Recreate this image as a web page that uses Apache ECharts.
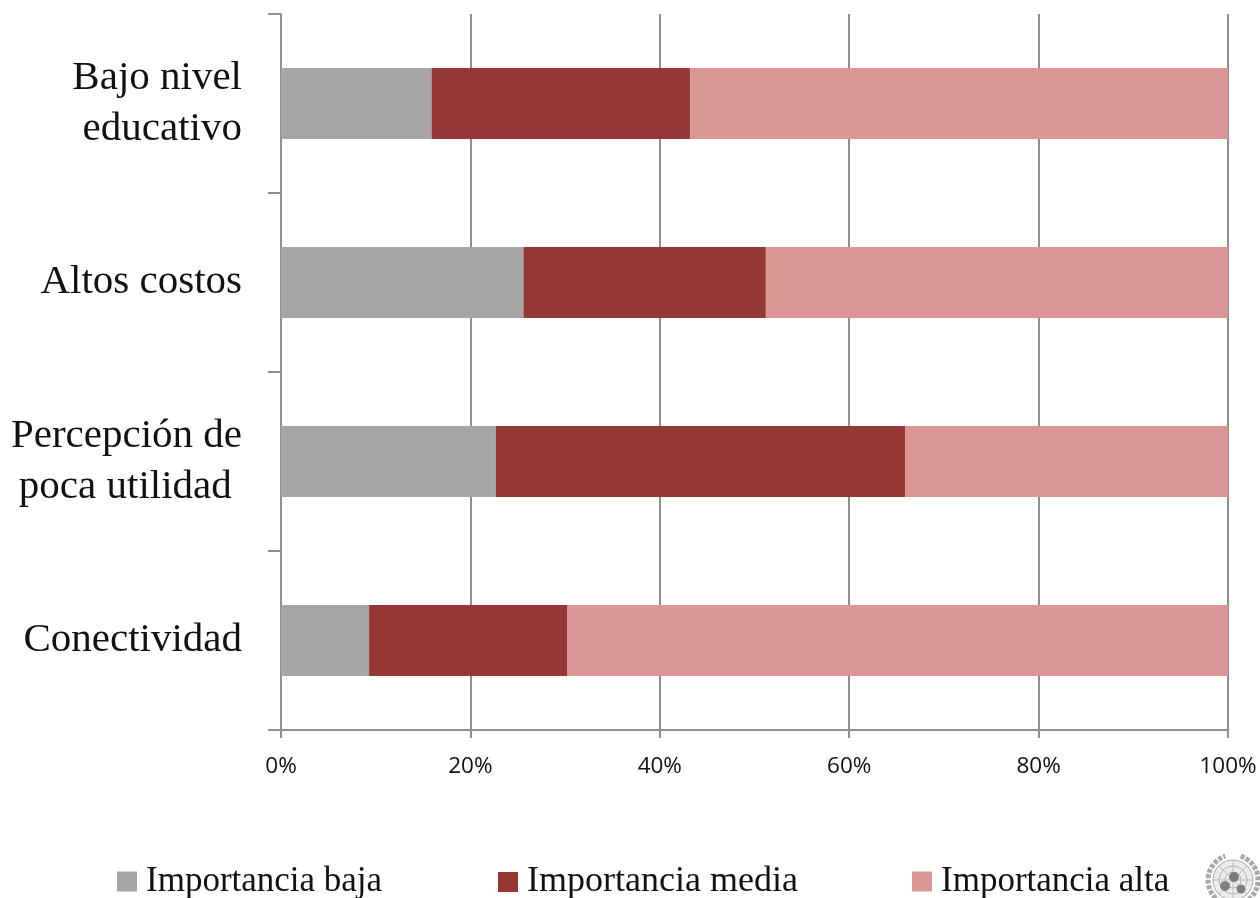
<!DOCTYPE html>
<html><head><meta charset="utf-8">
<style>html,body{margin:0;padding:0;background:#fff}#c{width:1260px;height:898px}</style>
<script src="https://cdn.jsdelivr.net/npm/echarts@6/dist/echarts.min.js"></script>
</head><body><div id="c"></div>
<script>
const categories = ['Bajo nivel\neducativo','Altos costos','Percepción de\npoca utilidad ','Conectividad'];
const baja = [15.9,25.6,22.7,9.3];
const media = [27.3,25.6,43.2,20.9];
const alta = [56.8,48.8,34.1,69.8];
const seriesNames = ['Importancia baja','Importancia media','Importancia alta'];
const colors = ['#a6a6a6','#953735','#d99694'];
const legendLeft = [117,498,912];
const lineColor = '#8f8f8f';
const serif = '"Liberation Serif", serif';
const chart = echarts.init(document.getElementById('c'), null, {renderer:'canvas'});
const mk = (name,data,color)=>({name,type:'bar',stack:'t',data,barWidth:71,itemStyle:{color},silent:true});
const cx=1233, cy=880;
const spokes = [0,45,90,135].map(a=>({type:'line',shape:{
  x1:cx-20*Math.cos(a*Math.PI/180),y1:cy-20*Math.sin(a*Math.PI/180),
  x2:cx+20*Math.cos(a*Math.PI/180),y2:cy+20*Math.sin(a*Math.PI/180)},style:{stroke:'#bdbdbd',lineWidth:1}}));
chart.setOption({
  animation:false,
  backgroundColor:'#fff',
  grid:{left:281,right:32,top:14,bottom:168,containLabel:false},
  legend:seriesNames.map((n,i)=>({left:legendLeft[i],top:864,itemWidth:20,itemHeight:20,icon:'rect',
    padding:0,
    textStyle:{fontFamily:serif,fontSize:i===1?36:35,color:'#111',padding:[0,0,0,4]},
    data:[n]})),
  xAxis:{type:'value',min:0,max:100,interval:20,
    axisLine:{show:true,lineStyle:{color:lineColor,width:2}},
    axisTick:{show:true,length:8,lineStyle:{color:lineColor,width:2}},
    splitLine:{show:true,lineStyle:{color:lineColor,width:2}},
    axisLabel:{formatter:'{value}%',margin:25,fontFamily:'"Open Sans"',fontSize:22.5,color:'#111',hideOverlap:false,showMinLabel:true,showMaxLabel:true}},
  yAxis:{type:'category',inverse:true,data:categories,
    axisLine:{show:true,onZero:false,lineStyle:{color:lineColor,width:2}},
    axisTick:{show:true,length:13,lineStyle:{color:lineColor,width:2}},
    axisLabel:{margin:39,fontFamily:serif,fontSize:41,lineHeight:51,color:'#111',align:'right'}},
  series:[mk(seriesNames[0],baja,colors[0]),mk(seriesNames[1],media,colors[1]),mk(seriesNames[2],alta,colors[2])],
  graphic:[
    {type:'group',silent:true,children:[
      {type:'circle',shape:{cx,cy,r:20},style:{fill:'#ececec',stroke:'#a8a8a8',lineWidth:1}},
      ...spokes,
      {type:'circle',shape:{cx,cy,r:14},style:{fill:'none',stroke:'#b5b5b5',lineWidth:1}},
      {type:'circle',shape:{cx,cy,r:8},style:{fill:'none',stroke:'#b5b5b5',lineWidth:1}},
      {type:'circle',shape:{cx:cx+1,cy:cy-3,r:5},style:{fill:'#7a7a7a'}},
      {type:'circle',shape:{cx:cx-8,cy:cy+6,r:5},style:{fill:'#808080'}},
      {type:'circle',shape:{cx:cx+8,cy:cy+9,r:4.5},style:{fill:'#808080'}},
      {type:'arc',shape:{cx,cy,r:25,startAngle:Math.PI*0.6,endAngle:Math.PI*1.4},style:{stroke:'#a8a8a8',lineWidth:5,lineDash:[4,1.5],fill:'none'}},
      {type:'arc',shape:{cx,cy,r:25,startAngle:-Math.PI*0.4,endAngle:Math.PI*0.4},style:{stroke:'#a8a8a8',lineWidth:5,lineDash:[4,1.5],fill:'none'}}
    ]}
  ]
});
</script></body></html>
